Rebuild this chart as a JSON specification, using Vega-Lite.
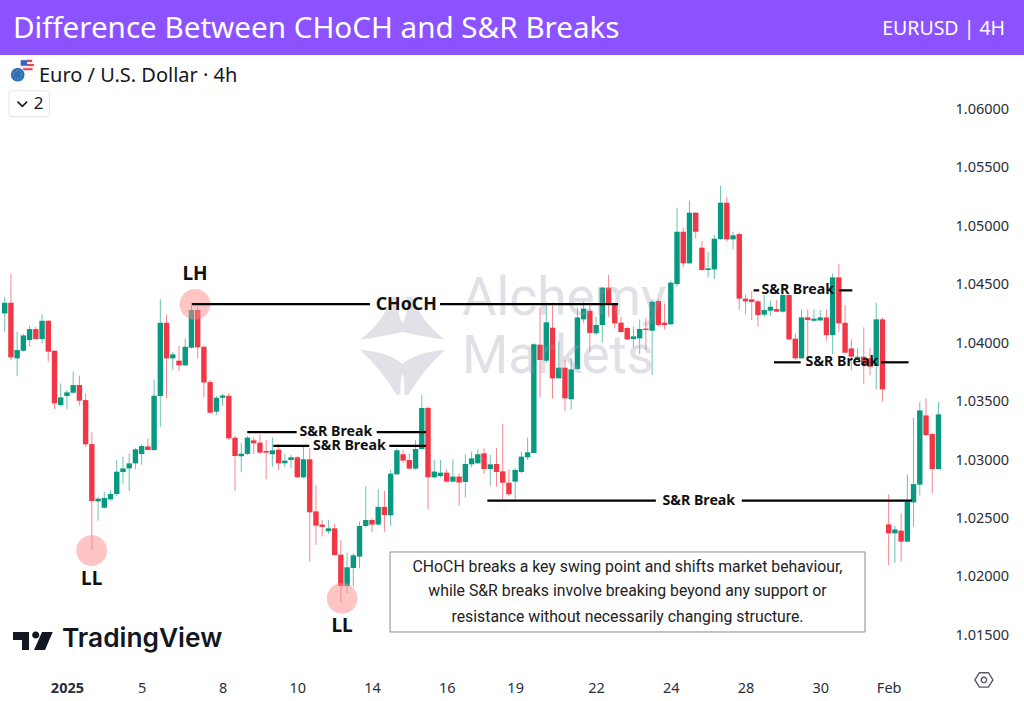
{
"$schema": "https://vega.github.io/schema/vega-lite/v6.json",
"width": 1024,
"height": 701,
"padding": 0,
"autosize": {"type": "none"},
"background": "white",
"config": {"view": {"stroke": null}},
"title": {"text": "Difference Between CHoCH and S&R Breaks", "anchor": "start", "frame": "group", "dx": 13, "offset": -45, "color": "white", "font": "Noto Sans", "fontSize": 29.6, "fontWeight": "normal"},
"datasets": {
"candles": [
{"bar":0,"open":1.04253,"high":1.04396,"low":1.04096,"close":1.04344},
{"bar":1,"open":1.04344,"high":1.04589,"low":1.03854,"close":1.03877},
{"bar":2,"open":1.03869,"high":1.04096,"low":1.03718,"close":1.0394},
{"bar":3,"open":1.03934,"high":1.04077,"low":1.03926,"close":1.04065},
{"bar":4,"open":1.04025,"high":1.04148,"low":1.03968,"close":1.04119},
{"bar":5,"open":1.04119,"high":1.04139,"low":1.04031,"close":1.04034},
{"bar":6,"open":1.04034,"high":1.04247,"low":1.03997,"close":1.0419},
{"bar":7,"open":1.0419,"high":1.04196,"low":1.0384,"close":1.03926},
{"bar":8,"open":1.03934,"high":1.03934,"low":1.03435,"close":1.03484},
{"bar":9,"open":1.0347,"high":1.03655,"low":1.03455,"close":1.03535},
{"bar":10,"open":1.03547,"high":1.03598,"low":1.03435,"close":1.03578},
{"bar":11,"open":1.03575,"high":1.03755,"low":1.03569,"close":1.03641},
{"bar":12,"open":1.03641,"high":1.0372,"low":1.03464,"close":1.03507},
{"bar":13,"open":1.03512,"high":1.03569,"low":1.03114,"close":1.03134},
{"bar":14,"open":1.03136,"high":1.03236,"low":1.02236,"close":1.02649},
{"bar":15,"open":1.02646,"high":1.02686,"low":1.02481,"close":1.02669},
{"bar":16,"open":1.02592,"high":1.02729,"low":1.02586,"close":1.02675},
{"bar":17,"open":1.02663,"high":1.02743,"low":1.02652,"close":1.02709},
{"bar":18,"open":1.02709,"high":1.03,"low":1.02692,"close":1.029},
{"bar":19,"open":1.02897,"high":1.03028,"low":1.02794,"close":1.02928},
{"bar":20,"open":1.02928,"high":1.03057,"low":1.02735,"close":1.02971},
{"bar":21,"open":1.02971,"high":1.03105,"low":1.0292,"close":1.03091},
{"bar":22,"open":1.03051,"high":1.03136,"low":1.0296,"close":1.03119},
{"bar":23,"open":1.03116,"high":1.03185,"low":1.03085,"close":1.03085},
{"bar":24,"open":1.03085,"high":1.03689,"low":1.03079,"close":1.03549},
{"bar":25,"open":1.03547,"high":1.04373,"low":1.03284,"close":1.04173},
{"bar":26,"open":1.04173,"high":1.04239,"low":1.03527,"close":1.03869},
{"bar":27,"open":1.03869,"high":1.03926,"low":1.03769,"close":1.03903},
{"bar":28,"open":1.03849,"high":1.03974,"low":1.0376,"close":1.03809},
{"bar":29,"open":1.03809,"high":1.04039,"low":1.03803,"close":1.03968},
{"bar":30,"open":1.0396,"high":1.04344,"low":1.03954,"close":1.04282},
{"bar":31,"open":1.04282,"high":1.0431,"low":1.03869,"close":1.03963},
{"bar":32,"open":1.03968,"high":1.03974,"low":1.03535,"close":1.03663},
{"bar":33,"open":1.03666,"high":1.03683,"low":1.03398,"close":1.03404},
{"bar":34,"open":1.03413,"high":1.03547,"low":1.03384,"close":1.03532},
{"bar":35,"open":1.03532,"high":1.03569,"low":1.03461,"close":1.03552},
{"bar":36,"open":1.03549,"high":1.03575,"low":1.03171,"close":1.03185},
{"bar":37,"open":1.0319,"high":1.03205,"low":1.02735,"close":1.03034},
{"bar":38,"open":1.03032,"high":1.03143,"low":1.02895,"close":1.03054},
{"bar":39,"open":1.03052,"high":1.03205,"low":1.03043,"close":1.03191},
{"bar":40,"open":1.03168,"high":1.03194,"low":1.03052,"close":1.03143},
{"bar":41,"open":1.03148,"high":1.0322,"low":1.03052,"close":1.03063},
{"bar":42,"open":1.03077,"high":1.03171,"low":1.02835,"close":1.03063},
{"bar":43,"open":1.03049,"high":1.03194,"low":1.02943,"close":1.03083},
{"bar":44,"open":1.03089,"high":1.03137,"low":1.02915,"close":1.02972},
{"bar":45,"open":1.02972,"high":1.03052,"low":1.02938,"close":1.02995},
{"bar":46,"open":1.03,"high":1.03043,"low":1.02929,"close":1.03023},
{"bar":47,"open":1.03023,"high":1.03034,"low":1.02852,"close":1.02852},
{"bar":48,"open":1.02852,"high":1.03128,"low":1.02844,"close":1.03006},
{"bar":49,"open":1.03006,"high":1.031,"low":1.02131,"close":1.02553},
{"bar":50,"open":1.02561,"high":1.02787,"low":1.02274,"close":1.02439},
{"bar":51,"open":1.02448,"high":1.02487,"low":1.02345,"close":1.02428},
{"bar":52,"open":1.02391,"high":1.02487,"low":1.02368,"close":1.02416},
{"bar":53,"open":1.02416,"high":1.02453,"low":1.02183,"close":1.02188},
{"bar":54,"open":1.02191,"high":1.02316,"low":1.01781,"close":1.01923},
{"bar":55,"open":1.01923,"high":1.02208,"low":1.01861,"close":1.02083},
{"bar":56,"open":1.02077,"high":1.02203,"low":1.01918,"close":1.02185},
{"bar":57,"open":1.02174,"high":1.02473,"low":1.02074,"close":1.02436},
{"bar":58,"open":1.02436,"high":1.02778,"low":1.02422,"close":1.02487},
{"bar":59,"open":1.02487,"high":1.02502,"low":1.02382,"close":1.02448},
{"bar":60,"open":1.02448,"high":1.0275,"low":1.02442,"close":1.02599},
{"bar":61,"open":1.02599,"high":1.02735,"low":1.02388,"close":1.0253},
{"bar":62,"open":1.02527,"high":1.02915,"low":1.02436,"close":1.02883},
{"bar":63,"open":1.02878,"high":1.031,"low":1.02872,"close":1.03083},
{"bar":64,"open":1.03049,"high":1.03086,"low":1.02977,"close":1.02995},
{"bar":65,"open":1.03,"high":1.03057,"low":1.0292,"close":1.02926},
{"bar":66,"open":1.02926,"high":1.03171,"low":1.02915,"close":1.03094},
{"bar":67,"open":1.03094,"high":1.03556,"low":1.03086,"close":1.03445},
{"bar":68,"open":1.03445,"high":1.03456,"low":1.02579,"close":1.02852},
{"bar":69,"open":1.02852,"high":1.03,"low":1.02844,"close":1.02901},
{"bar":70,"open":1.02863,"high":1.03,"low":1.02852,"close":1.02892},
{"bar":71,"open":1.02892,"high":1.0292,"low":1.02807,"close":1.02815},
{"bar":72,"open":1.02815,"high":1.03006,"low":1.02807,"close":1.02858},
{"bar":73,"open":1.02858,"high":1.02886,"low":1.02607,"close":1.02807},
{"bar":74,"open":1.02812,"high":1.03052,"low":1.02681,"close":1.02966},
{"bar":75,"open":1.02963,"high":1.03071,"low":1.02937,"close":1.03014},
{"bar":76,"open":1.02972,"high":1.03091,"low":1.02966,"close":1.03049},
{"bar":77,"open":1.03057,"high":1.031,"low":1.0288,"close":1.02923},
{"bar":78,"open":1.02923,"high":1.03043,"low":1.02778,"close":1.02963},
{"bar":79,"open":1.02966,"high":1.031,"low":1.02772,"close":1.02898},
{"bar":80,"open":1.02903,"high":1.03308,"low":1.02652,"close":1.02806},
{"bar":81,"open":1.02806,"high":1.0292,"low":1.02692,"close":1.02707},
{"bar":82,"open":1.02815,"high":1.02929,"low":1.02658,"close":1.02915},
{"bar":83,"open":1.02898,"high":1.03071,"low":1.02886,"close":1.03029},
{"bar":84,"open":1.03023,"high":1.03191,"low":1.03,"close":1.03066},
{"bar":85,"open":1.0306,"high":1.03997,"low":1.03057,"close":1.03989},
{"bar":86,"open":1.03986,"high":1.04305,"low":1.03536,"close":1.03855},
{"bar":87,"open":1.03849,"high":1.04345,"low":1.03832,"close":1.04177},
{"bar":88,"open":1.04131,"high":1.04345,"low":1.03527,"close":1.03698},
{"bar":89,"open":1.03698,"high":1.04011,"low":1.03698,"close":1.03789},
{"bar":90,"open":1.03789,"high":1.03855,"low":1.03419,"close":1.03527},
{"bar":91,"open":1.03519,"high":1.03869,"low":1.03433,"close":1.03775},
{"bar":92,"open":1.03778,"high":1.04305,"low":1.03769,"close":1.04219},
{"bar":93,"open":1.04202,"high":1.04353,"low":1.04168,"close":1.04294},
{"bar":94,"open":1.04276,"high":1.04339,"low":1.03926,"close":1.04086},
{"bar":95,"open":1.04083,"high":1.04225,"low":1.04068,"close":1.04154},
{"bar":96,"open":1.04154,"high":1.04482,"low":1.04003,"close":1.04473},
{"bar":97,"open":1.04473,"high":1.04581,"low":1.04225,"close":1.04325},
{"bar":98,"open":1.04325,"high":1.04339,"low":1.04125,"close":1.04168},
{"bar":99,"open":1.04174,"high":1.04225,"low":1.04088,"close":1.04094},
{"bar":100,"open":1.04128,"high":1.0414,"low":1.04026,"close":1.04031},
{"bar":101,"open":1.04034,"high":1.0414,"low":1.03963,"close":1.04057},
{"bar":102,"open":1.0404,"high":1.04202,"low":1.03906,"close":1.0412},
{"bar":103,"open":1.04123,"high":1.04211,"low":1.0394,"close":1.04111},
{"bar":104,"open":1.04105,"high":1.04373,"low":1.03727,"close":1.04353},
{"bar":105,"open":1.04359,"high":1.04373,"low":1.0414,"close":1.04154},
{"bar":106,"open":1.04174,"high":1.04339,"low":1.04117,"close":1.04154},
{"bar":107,"open":1.0416,"high":1.04533,"low":1.04154,"close":1.04516},
{"bar":108,"open":1.04504,"high":1.05157,"low":1.04481,"close":1.04951},
{"bar":109,"open":1.04951,"high":1.04986,"low":1.04647,"close":1.04681},
{"bar":110,"open":1.04681,"high":1.05216,"low":1.04675,"close":1.05114},
{"bar":111,"open":1.05114,"high":1.0512,"low":1.04894,"close":1.04951},
{"bar":112,"open":1.04815,"high":1.04872,"low":1.04618,"close":1.04624},
{"bar":113,"open":1.04624,"high":1.0478,"low":1.04561,"close":1.04638},
{"bar":114,"open":1.04629,"high":1.04923,"low":1.04547,"close":1.04892},
{"bar":115,"open":1.04889,"high":1.05342,"low":1.0488,"close":1.05199},
{"bar":116,"open":1.05199,"high":1.05251,"low":1.04866,"close":1.04886},
{"bar":117,"open":1.04886,"high":1.04951,"low":1.048,"close":1.0492},
{"bar":118,"open":1.04931,"high":1.04943,"low":1.04282,"close":1.04379},
{"bar":119,"open":1.04379,"high":1.04419,"low":1.04248,"close":1.04356},
{"bar":120,"open":1.04373,"high":1.04444,"low":1.04196,"close":1.0435},
{"bar":121,"open":1.04356,"high":1.04367,"low":1.04139,"close":1.04239},
{"bar":122,"open":1.04242,"high":1.0441,"low":1.04225,"close":1.04282},
{"bar":123,"open":1.04276,"high":1.04362,"low":1.04231,"close":1.0431},
{"bar":124,"open":1.0429,"high":1.04367,"low":1.04265,"close":1.04268},
{"bar":125,"open":1.04268,"high":1.04439,"low":1.04259,"close":1.0441},
{"bar":126,"open":1.0441,"high":1.04424,"low":1.04025,"close":1.04031},
{"bar":127,"open":1.04037,"high":1.04082,"low":1.03855,"close":1.03869},
{"bar":128,"open":1.03869,"high":1.04287,"low":1.03869,"close":1.04219},
{"bar":129,"open":1.04219,"high":1.04287,"low":1.03883,"close":1.04196},
{"bar":130,"open":1.0419,"high":1.04287,"low":1.04182,"close":1.04208},
{"bar":131,"open":1.04193,"high":1.04282,"low":1.04187,"close":1.04219},
{"bar":132,"open":1.04219,"high":1.04287,"low":1.0402,"close":1.04068},
{"bar":133,"open":1.04068,"high":1.04595,"low":1.03906,"close":1.04561},
{"bar":134,"open":1.04561,"high":1.04675,"low":1.04096,"close":1.04168},
{"bar":135,"open":1.04173,"high":1.04324,"low":1.03911,"close":1.03917},
{"bar":136,"open":1.03954,"high":1.04031,"low":1.03769,"close":1.03883},
{"bar":137,"open":1.0386,"high":1.03954,"low":1.03854,"close":1.03883},
{"bar":138,"open":1.03883,"high":1.04133,"low":1.03649,"close":1.03812},
{"bar":139,"open":1.03869,"high":1.03954,"low":1.03726,"close":1.03797},
{"bar":140,"open":1.03803,"high":1.04344,"low":1.03604,"close":1.04202},
{"bar":141,"open":1.04202,"high":1.04219,"low":1.03498,"close":1.03604},
{"bar":142,"open":1.0245,"high":1.02706,"low":1.02102,"close":1.02373},
{"bar":143,"open":1.02373,"high":1.02435,"low":1.02122,"close":1.02407},
{"bar":144,"open":1.02396,"high":1.02544,"low":1.02131,"close":1.02302},
{"bar":145,"open":1.02302,"high":1.02877,"low":1.02302,"close":1.02643},
{"bar":146,"open":1.02638,"high":1.03361,"low":1.0243,"close":1.02794},
{"bar":147,"open":1.02789,"high":1.03498,"low":1.02698,"close":1.03424},
{"bar":148,"open":1.03381,"high":1.03527,"low":1.03205,"close":1.03213},
{"bar":149,"open":1.03222,"high":1.03233,"low":1.02715,"close":1.02923},
{"bar":150,"open":1.02923,"high":1.03498,"low":1.0292,"close":1.0339}
],
"levels": [
{"bar":30.09,"bar2":58.68,"price":1.04333},
{"bar":69.93,"bar2":98.52,"price":1.04333},
{"bar":38.97,"bar2":46.9,"price":1.03239},
{"bar":59.76,"bar2":67.68,"price":1.03239},
{"bar":43.15,"bar2":48.93,"price":1.0312},
{"bar":61.78,"bar2":67.68,"price":1.0312},
{"bar":77.53,"bar2":104.6,"price":1.02652},
{"bar":118.4,"bar2":145.7,"price":1.02652},
{"bar":120.3,"bar2":121.2,"price":1.0445},
{"bar":134.07,"bar2":136.16,"price":1.0445},
{"bar":123.58,"bar2":127.87,"price":1.03835},
{"bar":140.77,"bar2":145.2,"price":1.03835}
],
"levelLabels": [
{"bar":64.5,"price":1.04325,"label":"CHoCH"},
{"bar":53.2,"price":1.03239,"label":"S&R Break"},
{"bar":55.36,"price":1.0312,"label":"S&R Break"},
{"bar":111.5,"price":1.02652,"label":"S&R Break"},
{"bar":127.4,"price":1.0445,"label":"S&R Break"},
{"bar":134.5,"price":1.03835,"label":"S&R Break"}
],
"swings": [
{"bar":30.57,"price":1.04331,"ring":1.0459,"label":"LH"},
{"bar":13.97,"price":1.02225,"ring":1.01983,"label":"LL"},
{"bar":54.2,"price":1.01818,"ring":1.01581,"label":"LL"}
],
"note": [
{"bar":100.05,"price":1.02085,"label":"CHoCH breaks a key swing point and shifts market behaviour,"},
{"bar":100.05,"price":1.0188,"label":"while S&R breaks involve breaking beyond any support or"},
{"bar":100.05,"price":1.01658,"label":"resistance without necessarily changing structure."}
]
},
"layer": [
{
"data": {"name": "candles"},
"mark": {"type": "rule", "strokeWidth": 1, "opacity": 0.6},
"encoding": {
"x": {"field": "bar", "type": "quantitative", "title": null, "scale": {"domain": [-0.755, 163.74], "nice": false, "zero": false},
"axis": {"values": [10,22,35,47,59,71,82,95,107,119,131,142], "orient": "bottom", "offset": -23, "domain": false, "ticks": false, "grid": false, "labelPadding": 3,
"labelExpr": "{10:'2025',22:'5',35:'8',47:'10',59:'14',71:'16',82:'19',95:'22',107:'24',119:'28',131:'30',142:'Feb'}[datum.value]",
"labelFont": "Noto Sans", "labelFontSize": 14.5, "labelColor": "#2a2e39", "labelFontWeight": {"condition": {"test": "datum.value == 10", "value": "bold"}, "value": "normal"}}},
"y": {"field": "low", "type": "quantitative", "title": null, "scale": {"domain": [1.0094, 1.06932], "nice": false, "zero": false},
"axis": {"values": [1.015,1.02,1.025,1.03,1.035,1.04,1.045,1.05,1.055,1.06], "format": ".5f", "orient": "right", "offset": -69, "domain": false, "ticks": false, "grid": false, "labelPadding": 0,
"labelFont": "Noto Sans", "labelFontSize": 14.5, "labelColor": "#2a2e39"}},
"y2": {"field": "high"},
"color": {"condition": {"test": "datum.close >= datum.open", "value": "#089981"}, "value": "#f23645"}
}
},
{
"data": {"name": "candles"},
"mark": {"type": "rule", "strokeWidth": 5.4},
"encoding": {
"x": {"field": "bar", "type": "quantitative"},
"y": {"field": "open", "type": "quantitative"},
"y2": {"field": "close"},
"color": {"condition": {"test": "datum.close >= datum.open", "value": "#089981"}, "value": "#f23645"}
}
},
{
"data": {"values": [{"bar":-0.755,"bar2":163.74,"top":1.06932,"bottom":1.06462}]},
"mark": {"type": "rect", "fill": "#8c52ff"},
"encoding": {"x": {"field": "bar", "type": "quantitative"}, "x2": {"field": "bar2"}, "y": {"field": "top", "type": "quantitative"}, "y2": {"field": "bottom"}}
},
{
"data": {"values": [{"bar":160.7,"price":1.06682,"label":"EURUSD | 4H"}]},
"mark": {"type": "text", "align": "right", "baseline": "middle", "color": "white", "font": "Noto Sans", "fontSize": 19.5},
"encoding": {"x": {"field": "bar", "type": "quantitative"}, "y": {"field": "price", "type": "quantitative"}, "text": {"field": "label"}}
},
{
"data": {"values": [{"bar":73.46,"price":1.04239,"label":"Alchemy"},{"bar":73.46,"price":1.03744,"label":"Markets"}]},
"mark": {"type": "text", "align": "left", "baseline": "alphabetic", "color": "#9a9ab0", "opacity": 0.3, "font": "Roboto", "fontSize": 53},
"encoding": {"x": {"field": "bar", "type": "quantitative"}, "y": {"field": "price", "type": "quantitative"}, "text": {"field": "label"}}
},
{
"data": {"values": [{"bar":63.9,"price":1.03976}]},
"mark": {"type": "point", "filled": true, "color": "#9a9ab0", "opacity": 0.3, "size": 10000,
"shape": "M-0.2,-0.98Q-0.4,-0.45 -0.85,-0.12Q-0.3,-0.2 0,-0.28Q0.3,-0.2 0.85,-0.12Q0.4,-0.45 0.2,-0.98L0.08,-0.98Q0.12,-0.65 0,-0.45Q-0.12,-0.65 -0.08,-0.98ZM-0.85,0.08Q-0.3,0.12 0,0.36Q0.3,0.12 0.85,0.08Q0.4,0.5 0.12,0.98L0.04,0.98Q0.05,0.7 0,0.55Q-0.05,0.7 -0.04,0.98L-0.12,0.98Q-0.4,0.5 -0.85,0.08Z"},
"encoding": {"x": {"field": "bar", "type": "quantitative"}, "y": {"field": "price", "type": "quantitative"}}
},
{
"data": {"values": [{"bar":61.9,"bar2":138.2,"top":1.02214,"bottom":1.0153}]},
"mark": {"type": "rect", "fill": "white", "stroke": "#8a8a8a", "strokeWidth": 1},
"encoding": {"x": {"field": "bar", "type": "quantitative"}, "x2": {"field": "bar2"}, "y": {"field": "top", "type": "quantitative"}, "y2": {"field": "bottom"}}
},
{
"data": {"name": "note"},
"mark": {"type": "text", "align": "center", "baseline": "middle", "color": "#222222", "font": "Roboto", "fontSize": 15.8},
"encoding": {"x": {"field": "bar", "type": "quantitative"}, "y": {"field": "price", "type": "quantitative"}, "text": {"field": "label"}}
},
{
"data": {"name": "swings"},
"mark": {"type": "point", "filled": true, "shape": "circle", "color": "#ff8a8a", "opacity": 0.5, "size": 940},
"encoding": {"x": {"field": "bar", "type": "quantitative"}, "y": {"field": "price", "type": "quantitative"}}
},
{
"data": {"name": "levels"},
"mark": {"type": "rule", "color": "black", "strokeWidth": 2.2},
"encoding": {"x": {"field": "bar", "type": "quantitative"}, "x2": {"field": "bar2"}, "y": {"field": "price", "type": "quantitative"}}
},
{
"data": {"name": "levelLabels"},
"transform": [{"filter": "datum.label != 'CHoCH'"}],
"mark": {"type": "text", "align": "center", "baseline": "middle", "color": "#111111", "font": "Noto Sans", "fontWeight": "bold", "fontSize": 14.2},
"encoding": {"x": {"field": "bar", "type": "quantitative"}, "y": {"field": "price", "type": "quantitative"}, "text": {"field": "label"}}
},
{
"data": {"name": "levelLabels"},
"transform": [{"filter": "datum.label == 'CHoCH'"}],
"mark": {"type": "text", "align": "center", "baseline": "middle", "color": "#111111", "font": "Noto Sans", "fontWeight": "bold", "fontSize": 17.8},
"encoding": {"x": {"field": "bar", "type": "quantitative"}, "y": {"field": "price", "type": "quantitative"}, "text": {"field": "label"}}
},
{
"data": {"name": "swings"},
"mark": {"type": "text", "align": "center", "baseline": "middle", "color": "#111111", "font": "Noto Sans", "fontWeight": "bold", "fontSize": 19},
"encoding": {"x": {"field": "bar", "type": "quantitative"}, "y": {"field": "ring", "type": "quantitative"}, "text": {"field": "label"}}
},
{
"data": {"values": [{"bar":5.5,"price":1.06282,"label":"Euro / U.S. Dollar \u00b7 4h"}]},
"mark": {"type": "text", "align": "left", "baseline": "middle", "color": "#131722", "font": "Noto Sans", "fontSize": 20},
"encoding": {"x": {"field": "bar", "type": "quantitative"}, "y": {"field": "price", "type": "quantitative"}, "text": {"field": "label"}}
},
{
"data": {"values": [{"bar":3.58,"price":1.06376}]},
"mark": {"type": "point", "filled": true, "shape": "circle", "color": "#fbe9e9", "opacity": 1, "size": 150},
"encoding": {"x": {"field": "bar", "type": "quantitative"}, "y": {"field": "price", "type": "quantitative"}}
},
{
"data": {"values": [{"bar":3.58,"price":1.06376}]},
"mark": {"type": "point", "filled": true, "color": "#e8434f", "opacity": 1, "size": 196, "shape": "M0,-0.75H0.75V-0.45H0ZM0,-0.15H1V0.15H0ZM-0.6,0.45H0.8V0.75H-0.6Z"},
"encoding": {"x": {"field": "bar", "type": "quantitative"}, "y": {"field": "price", "type": "quantitative"}}
},
{
"data": {"values": [{"bar":3.58,"price":1.06376}]},
"mark": {"type": "point", "filled": true, "color": "#3a63b8", "opacity": 1, "size": 196, "shape": "M-0.9,-0.7H0V0.1H-0.9Z"},
"encoding": {"x": {"field": "bar", "type": "quantitative"}, "y": {"field": "price", "type": "quantitative"}}
},
{
"data": {"values": [{"bar":2.09,"price":1.06293}]},
"mark": {"type": "point", "filled": true, "shape": "circle", "color": "#2f6fb5", "stroke": "white", "strokeWidth": 1, "opacity": 1, "size": 215},
"encoding": {"x": {"field": "bar", "type": "quantitative"}, "y": {"field": "price", "type": "quantitative"}}
},
{
"data": {"values": [{"bar":2.09,"price":1.06293}]},
"mark": {"type": "point", "filled": false, "shape": "circle", "color": "#c9b65a", "strokeWidth": 1, "strokeDash": [1, 2], "opacity": 1, "size": 70},
"encoding": {"x": {"field": "bar", "type": "quantitative"}, "y": {"field": "price", "type": "quantitative"}}
},
{
"data": {"values": [{"bar":0.69,"bar2":7.16,"top":1.06156,"bottom":1.05934}]},
"mark": {"type": "rect", "fill": "white", "stroke": "#e0e3eb", "strokeWidth": 1, "cornerRadius": 3},
"encoding": {"x": {"field": "bar", "type": "quantitative"}, "x2": {"field": "bar2"}, "y": {"field": "top", "type": "quantitative"}, "y2": {"field": "bottom"}}
},
{
"data": {"values": [{"bar":2.83,"price":1.06043}]},
"mark": {"type": "point", "filled": false, "color": "#131722", "strokeWidth": 1.5, "opacity": 1, "size": 144, "shape": "M-0.8,-0.4L0,0.4L0.8,-0.4"},
"encoding": {"x": {"field": "bar", "type": "quantitative"}, "y": {"field": "price", "type": "quantitative"}}
},
{
"data": {"values": [{"bar":5.46,"price":1.06043,"label":"2"}]},
"mark": {"type": "text", "align": "center", "baseline": "middle", "color": "#131722", "font": "Noto Sans", "fontSize": 17},
"encoding": {"x": {"field": "bar", "type": "quantitative"}, "y": {"field": "price", "type": "quantitative"}, "text": {"field": "label"}}
},
{
"data": {"values": [{"bar":4.55,"price":1.01453}]},
"mark": {"type": "point", "filled": true, "color": "#131722", "opacity": 1, "size": 1600,
"shape": "M-1,-0.45H-0.2V0.45H-0.55V-0.05H-1ZM-0.045,-0.3A0.18,0.18 0 1 0 0.315,-0.3A0.18,0.18 0 1 0 -0.045,-0.3ZM0.45,-0.45H0.985L0.6,0.45H0.05Z"},
"encoding": {"x": {"field": "bar", "type": "quantitative"}, "y": {"field": "price", "type": "quantitative"}}
},
{
"data": {"values": [{"bar":9.2,"price":1.01474,"label":"TradingView"}]},
"mark": {"type": "text", "align": "left", "baseline": "middle", "color": "#131722", "font": "Inter", "fontWeight": 600, "fontSize": 26.3},
"encoding": {"x": {"field": "bar", "type": "quantitative"}, "y": {"field": "price", "type": "quantitative"}, "text": {"field": "label"}}
},
{
"data": {"values": [{"bar":157.3,"price":1.0112}]},
"mark": {"type": "point", "filled": false, "color": "#555a66", "strokeWidth": 1.4, "opacity": 1, "size": 324, "shape": "M-1,0L-0.5,-0.8H0.5L1,0L0.5,0.8H-0.5ZM-0.3,0A0.3,0.3 0 1 0 0.3,0A0.3,0.3 0 1 0 -0.3,0Z"},
"encoding": {"x": {"field": "bar", "type": "quantitative"}, "y": {"field": "price", "type": "quantitative"}}
}
]
}
